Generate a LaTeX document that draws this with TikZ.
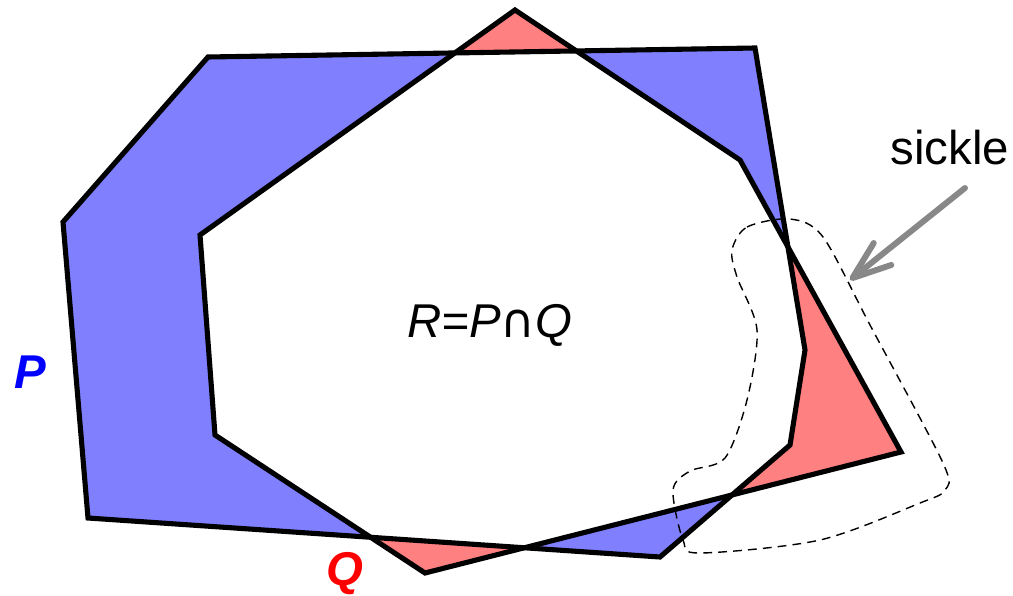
\documentclass[tikz,border=0pt]{standalone}
\usepackage{fontspec}
\setmainfont{Liberation Sans}
\newfontfamily\capfont{DejaVu Sans}
\usetikzlibrary{arrows.meta}
\definecolor{pblue}{HTML}{8080FF}
\definecolor{qred}{HTML}{FF8080}
\definecolor{sicklegray}{HTML}{888888}
\tikzset{
  polyline/.style={line width=2.9pt},
  biglabel/.style={font=\fontsize{27}{27}\selectfont, inner sep=0pt},
}
\begin{document}
\begin{tikzpicture}[x=0.02cm, y=-0.02cm]
  \useasboundingbox (0,0) rectangle (1013,595);
  % ── vertices of P and Q (pixel grid, y downwards) ──
  \coordinate (p1) at (63,222);  \coordinate (p2) at (208,57);
  \coordinate (p3) at (755,48);  \coordinate (p4) at (805,350);
  \coordinate (p5) at (790,445); \coordinate (p6) at (660,557);
  \coordinate (p7) at (88,518);
  \coordinate (q1) at (515,10);  \coordinate (q2) at (740,160);
  \coordinate (q3) at (901,452); \coordinate (q4) at (425,573);
  \coordinate (q5) at (215,435); \coordinate (q6) at (200,235);
  % ── fills: P blue, Q red, P∩Q white ──
  \fill[pblue] (p1) -- (p2) -- (p3) -- (p4) -- (p5) -- (p6) -- (p7) -- cycle;
  \fill[qred] (q1) -- (q2) -- (q3) -- (q4) -- (q5) -- (q6) -- cycle;
  \begin{scope}
    \clip (p1) -- (p2) -- (p3) -- (p4) -- (p5) -- (p6) -- (p7) -- cycle;
    \fill[white] (q1) -- (q2) -- (q3) -- (q4) -- (q5) -- (q6) -- cycle;
  \end{scope}
  % ── outlines ──
  \draw[polyline] (p1) -- (p2) -- (p3) -- (p4) -- (p5) -- (p6) -- (p7) -- cycle;
  \draw[polyline] (q1) -- (q2) -- (q3) -- (q4) -- (q5) -- (q6) -- cycle;
  % ── sickle outline (dashed) ──
  \draw[line width=0.8pt, dash pattern=on 5pt off 3.5pt] plot[smooth cycle] coordinates {
    (732,250) (747,227) (790,219) (823,237) (870,325) (943,463) (945,490)
    (920,503) (820,540) (700,553) (683,540) (673,490) (690,471) (725,458)
    (747,400) (757,330) (737,277)};
  % ── labels ──
  \node[biglabel, text=blue] (plabel) at (30,372) {\bfseries\itshape P};
  \node[biglabel, text=red] (qlabel) at (345,574) {\bfseries\itshape Q};
  \node[biglabel] (rlabel) at (490,325) {\itshape R=P{\capfont ∩}Q};
  \node[biglabel] (sicklelabel) at (950,148) {sickle};
  % ── arrow to the sickle ──
  \coordinate (sickletail) at (965,188);
  \coordinate (sickletip) at (850,280);
  \draw[sicklegray, line width=3.4pt, line cap=round,
        -{Straight Barb[length=22pt, width=16pt, round]}] (sickletail) -- (sickletip);
\end{tikzpicture}
\end{document}
